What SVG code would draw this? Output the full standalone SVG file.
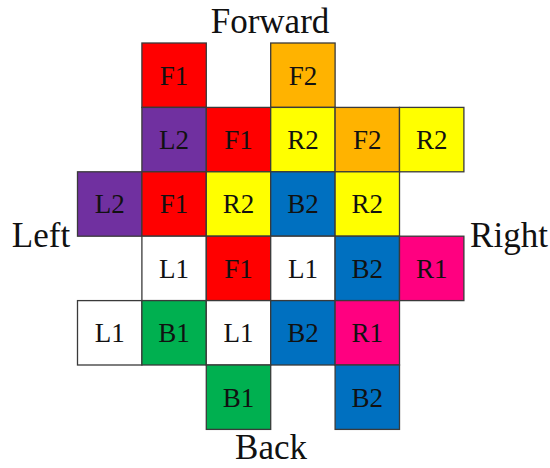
<svg xmlns="http://www.w3.org/2000/svg" width="550" height="468" viewBox="0 0 550 468">
<style>
rect{stroke:#3a3a3a;stroke-width:1.3}
text{font-family:"Liberation Serif","Times New Roman",serif;fill:#111;text-anchor:middle}
.c text{font-size:27px}
.d{font-size:35px}
.r{fill:#FF0000}.o{fill:#FFB300}.p{fill:#7030A0}.y{fill:#FFFF00}.b{fill:#0070C0}.g{fill:#00B050}.k{fill:#FF0080}.w{fill:#FFFFFF}
</style>
<rect x="0" y="0" width="550" height="468" style="fill:#fff;stroke:none"/>
<g class="c">
<g id="r0c1"><rect class="r" x="141.9" y="43" width="64.4" height="64.4"/><text x="174.1" y="84.5">F1</text></g>
<g id="r0c3"><rect class="o" x="270.7" y="43" width="64.4" height="64.4"/><text x="302.9" y="84.5">F2</text></g>
<g id="r1c1"><rect class="p" x="141.9" y="107.4" width="64.4" height="64.4"/><text x="174.1" y="148.9">L2</text></g>
<g id="r1c2"><rect class="r" x="206.3" y="107.4" width="64.4" height="64.4"/><text x="238.5" y="148.9">F1</text></g>
<g id="r1c3"><rect class="y" x="270.7" y="107.4" width="64.4" height="64.4"/><text x="302.9" y="148.9">R2</text></g>
<g id="r1c4"><rect class="o" x="335.1" y="107.4" width="64.4" height="64.4"/><text x="367.3" y="148.9">F2</text></g>
<g id="r1c5"><rect class="y" x="399.5" y="107.4" width="64.4" height="64.4"/><text x="431.7" y="148.9">R2</text></g>
<g id="r2c0"><rect class="p" x="77.5" y="171.8" width="64.4" height="64.4"/><text x="109.7" y="213.3">L2</text></g>
<g id="r2c1"><rect class="r" x="141.9" y="171.8" width="64.4" height="64.4"/><text x="174.1" y="213.3">F1</text></g>
<g id="r2c2"><rect class="y" x="206.3" y="171.8" width="64.4" height="64.4"/><text x="238.5" y="213.3">R2</text></g>
<g id="r2c3"><rect class="b" x="270.7" y="171.8" width="64.4" height="64.4"/><text x="302.9" y="213.3">B2</text></g>
<g id="r2c4"><rect class="y" x="335.1" y="171.8" width="64.4" height="64.4"/><text x="367.3" y="213.3">R2</text></g>
<g id="r3c1"><rect class="w" x="141.9" y="236.2" width="64.4" height="64.4"/><text x="174.1" y="277.7">L1</text></g>
<g id="r3c2"><rect class="r" x="206.3" y="236.2" width="64.4" height="64.4"/><text x="238.5" y="277.7">F1</text></g>
<g id="r3c3"><rect class="w" x="270.7" y="236.2" width="64.4" height="64.4"/><text x="302.9" y="277.7">L1</text></g>
<g id="r3c4"><rect class="b" x="335.1" y="236.2" width="64.4" height="64.4"/><text x="367.3" y="277.7">B2</text></g>
<g id="r3c5"><rect class="k" x="399.5" y="236.2" width="64.4" height="64.4"/><text x="431.7" y="277.7">R1</text></g>
<g id="r4c0"><rect class="w" x="77.5" y="300.6" width="64.4" height="64.4"/><text x="109.7" y="342.1">L1</text></g>
<g id="r4c1"><rect class="g" x="141.9" y="300.6" width="64.4" height="64.4"/><text x="174.1" y="342.1">B1</text></g>
<g id="r4c2"><rect class="w" x="206.3" y="300.6" width="64.4" height="64.4"/><text x="238.5" y="342.1">L1</text></g>
<g id="r4c3"><rect class="b" x="270.7" y="300.6" width="64.4" height="64.4"/><text x="302.9" y="342.1">B2</text></g>
<g id="r4c4"><rect class="k" x="335.1" y="300.6" width="64.4" height="64.4"/><text x="367.3" y="342.1">R1</text></g>
<g id="r5c2"><rect class="g" x="206.3" y="365" width="64.4" height="64.4"/><text x="238.5" y="406.5">B1</text></g>
<g id="r5c4"><rect class="b" x="335.1" y="365" width="64.4" height="64.4"/><text x="367.3" y="406.5">B2</text></g>
</g>
<g id="connectors"></g>
<g id="labels">
<text class="d" x="270" y="33">Forward</text>
<text class="d" x="41" y="247">Left</text>
<text class="d" x="509" y="247">Right</text>
<text class="d" x="271" y="459">Back</text>
</g>
</svg>
